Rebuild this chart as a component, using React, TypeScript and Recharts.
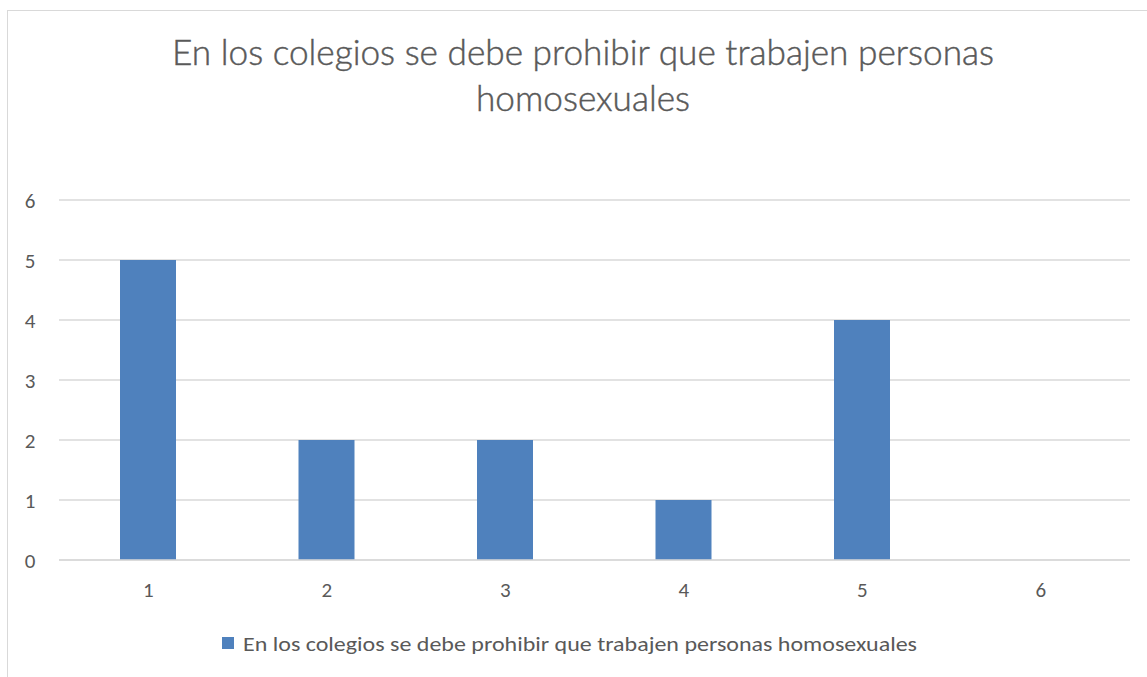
import { BarChart, Bar, XAxis, YAxis, CartesianGrid } from "recharts";

const categories = ["1", "2", "3", "4", "5", "6"];
const counts = [5, 2, 2, 1, 4, 0];
const yTicks = [0, 1, 2, 3, 4, 5, 6];
const seriesName =
  "En los colegios se debe prohibir que trabajen personas homosexuales";
const titleLines = [
  "En los colegios se debe prohibir que trabajen personas",
  "homosexuales",
];

const data = categories.map((c, i) => ({ cat: c, value: counts[i] }));

const FONT = "Carlito, Calibri, 'Open Sans', sans-serif";
const TITLE_FONT = "Lato, Carlito, sans-serif";
const TEXT = "#595959";
const GRID = "#d9d9d9";
const BLUE = "#4f81bd";

// custom ticks so the labels sit where Excel puts them
const YTick = (props: any) => {
  const { y, payload } = props;
  return (
    <text
      x={30}
      y={y + 8}
      textAnchor="middle"
      fontSize={21}
      fill={TEXT}
      fontFamily={FONT}
    >
      {payload.value}
    </text>
  );
};

const XTick = (props: any) => {
  const { x, payload } = props;
  return (
    <text
      x={x}
      y={597}
      textAnchor="middle"
      fontSize={21}
      fill={TEXT}
      fontFamily={FONT}
    >
      {payload.value}
    </text>
  );
};

export default function App() {
  return (
    <div
      style={{
        position: "absolute",
        left: 0,
        top: 0,
        width: 1147,
        height: 677,
        overflow: "hidden",
        background: "#fff",
        fontFamily: FONT,
      }}
    >
      <div
        style={{
          position: "absolute",
          left: 7,
          top: 10,
          width: 1160,
          height: 700,
          border: `1.5px solid ${GRID}`,
        }}
      />
      <svg
        width={1147}
        height={677}
        style={{ position: "absolute", left: 0, top: 0 }}
      >
        <g
          fontSize={35}
          fontWeight={300}
          fill={TEXT}
          stroke={TEXT}
          strokeWidth={0.45}
          fontFamily={TITLE_FONT}
          textAnchor="middle"
        >
          <text x={583} y={65} textLength={822} lengthAdjust="spacingAndGlyphs">
            {titleLines[0]}
          </text>
          <text x={583} y={111} textLength={214} lengthAdjust="spacingAndGlyphs">
            {titleLines[1]}
          </text>
        </g>
        <rect x={222} y={637} width={12} height={12} fill={BLUE} />
        <text
          x={243}
          y={651}
          fontSize={20}
          fill={TEXT}
          fontFamily={FONT}
          textLength={674}
          lengthAdjust="spacingAndGlyphs"
        >
          {seriesName}
        </text>
      </svg>
      <div style={{ position: "absolute", left: 0, top: 0 }}>
        <BarChart
          width={1147}
          height={677}
          data={data}
          margin={{ top: 200, right: 17, bottom: 87, left: 9 }}
        >
          <CartesianGrid vertical={false} stroke={GRID} strokeWidth={1.5} />
          <XAxis
            dataKey="cat"
            axisLine={{ stroke: GRID, strokeWidth: 1.5 }}
            tickLine={false}
            tick={<XTick />}
          />
          <YAxis
            width={50}
            domain={[0, 6]}
            ticks={yTicks}
            axisLine={false}
            tickLine={false}
            tick={<YTick />}
          />
          <Bar
            dataKey="value"
            name={seriesName}
            fill={BLUE}
            barSize={56}
            isAnimationActive={false}
          />
        </BarChart>
      </div>
    </div>
  );
}
